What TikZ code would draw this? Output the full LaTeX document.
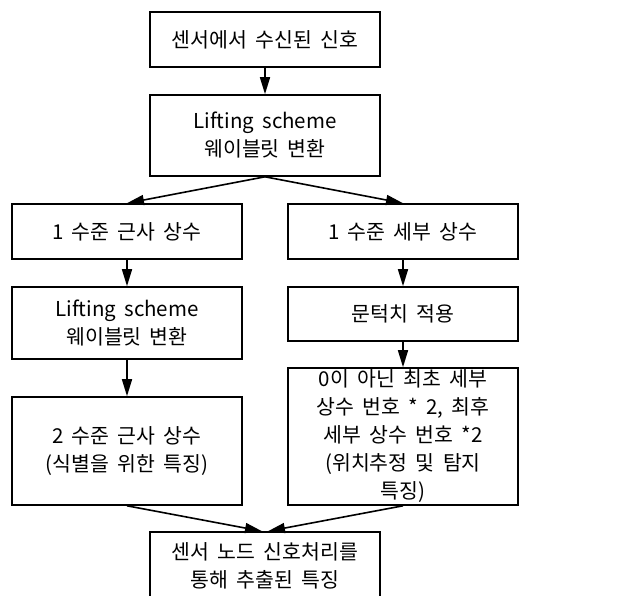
\documentclass[tikz,border=0pt]{standalone}
\usepackage{fontspec}
\setmainfont{Noto Sans CJK KR}[WordSpace=1.8]
\usepackage{tikz}
\usetikzlibrary{arrows.meta, positioning}

\begin{document}
\begin{tikzpicture}[x=1pt, y=-1pt, line width=1.6pt,
        box/.style={draw, align=center, minimum width=230pt, inner sep=2pt, font=\fontsize{20.5}{28}\selectfont},
        flow/.style={-{Triangle[length=17pt, width=10pt]}}]
        \useasboundingbox (0,0) rectangle (623,596);
        % input and first transform
        \node[box, minimum height=55pt] (signal) at (265,39.5) {센서에서 수신된 신호};
        \node[box, minimum height=81pt] (lift1) at (265,135.5) {Lifting scheme\\웨이블릿 변환};
        % approximation branch
        \node[box, minimum height=55pt] (approx1) at (127,231.5) {1 수준 근사 상수};
        \node[box, minimum height=72pt] (lift2) at (127,323) {Lifting scheme\\웨이블릿 변환};
        \node[box, minimum height=108pt] (approx2) at (127,451) {2 수준 근사 상수\\(식별을 위한 특징)};
        % detail branch
        \node[box, minimum height=55pt] (detail1) at (403,231.5) {1 수준 세부 상수};
        \node[box, minimum height=54pt] (thresh) at (403,314) {문턱치 적용};
        \node[box, minimum height=137pt] (detail2) at (403,436.5) {0이 아닌 최초 세부\\상수 번호 * 2, 최후\\세부 상수 번호 *2\\(위치추정 및 탐지\\특징)};
        % output
        \node[box, minimum height=68pt] (feature) at (265,566) {센서 노드 신호처리를\\통해 추출된 특징};
        \coordinate (inL) at ([xshift=-3pt]feature.north);
        \coordinate (inR) at ([xshift=3pt]feature.north);
        % connectors
        \draw[flow] (signal) -- (lift1);
        \draw[flow] (lift1.south) -- (approx1.north);
        \draw[flow] (lift1.south) -- (detail1.north);
        \draw[flow] (approx1) -- (lift2);
        \draw[flow] (lift2) -- (approx2);
        \draw[flow] (detail1) -- (thresh);
        \draw[flow] (thresh) -- (detail2);
        \draw[flow] (approx2.south) -- (inL);
        \draw[flow] (detail2.south) -- (inR);
\end{tikzpicture}
\end{document}
